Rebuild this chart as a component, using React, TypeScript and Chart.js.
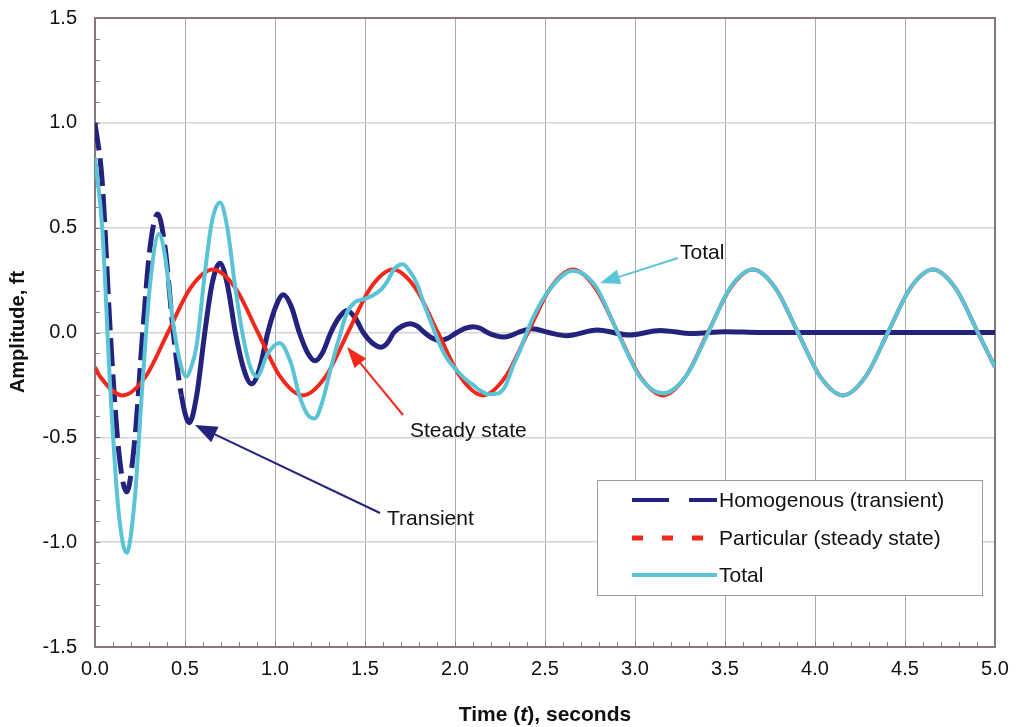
import React, { useEffect, useRef } from "react";
import { Chart, registerables } from "chart.js";

Chart.register(...registerables);

// ---- Data ----
const transientT = [0, 0.04, 0.085, 0.13, 0.176, 0.22, 0.265, 0.305, 0.348, 0.39, 0.435, 0.48, 0.524, 0.565, 0.61, 0.65, 0.694, 0.735, 0.78, 0.825, 0.87, 0.915, 0.96, 1.005, 1.046, 1.09, 1.135, 1.18, 1.222, 1.265, 1.31, 1.355, 1.4, 1.445, 1.49, 1.54, 1.59, 1.625, 1.66, 1.705, 1.75, 1.79, 1.83, 1.875, 1.917, 1.96, 2.01, 2.055, 2.1, 2.14, 2.18, 2.225, 2.27, 2.31, 2.35, 2.43, 2.52, 2.62, 2.79, 2.97, 3.14, 3.32, 3.5, 3.7, 4.0, 4.5, 5.0];
const transientY = [1.0, 0.72, 0.0, -0.55, -0.76, -0.52, 0.0, 0.4, 0.565, 0.4, 0.0, -0.3, -0.43, -0.3, 0.0, 0.23, 0.33, 0.23, 0.0, -0.17, -0.245, -0.17, 0.0, 0.125, 0.18, 0.125, 0.0, -0.095, -0.135, -0.095, 0.0, 0.07, 0.105, 0.07, 0.0, -0.05, -0.07, -0.05, 0.0, 0.03, 0.042, 0.03, 0.0, -0.027, -0.038, -0.027, 0.0, 0.02, 0.028, 0.02, 0.0, -0.015, -0.022, -0.015, 0.0, 0.018, 0.0, -0.015, 0.012, -0.012, 0.01, -0.005, 0.004, 0.0, 0.0, 0.0, 0.0];

const steadyT = [0, 0.03, 0.155, 0.28, 0.405, 0.53, 0.655, 0.78, 0.905, 1.03, 1.155, 1.28, 1.405, 1.53, 1.655, 1.78, 1.905, 2.03, 2.155, 2.28, 2.405, 2.53, 2.655, 2.78, 2.905, 3.03, 3.155, 3.28, 3.405, 3.53, 3.655, 3.78, 3.905, 4.03, 4.155, 4.28, 4.405, 4.53, 4.655, 4.78, 4.905, 5.0];
const steadyY = [-0.165, -0.212, -0.3, -0.212, 0, 0.212, 0.3, 0.212, 0, -0.212, -0.3, -0.212, 0, 0.212, 0.3, 0.212, 0, -0.212, -0.3, -0.212, 0, 0.212, 0.3, 0.212, 0, -0.212, -0.3, -0.212, 0, 0.212, 0.3, 0.212, 0, -0.212, -0.3, -0.212, 0, 0.212, 0.3, 0.212, 0, -0.165];

const totalT = [0, 0.04, 0.085, 0.13, 0.176, 0.22, 0.265, 0.305, 0.355, 0.39, 0.435, 0.475, 0.506, 0.54, 0.565, 0.61, 0.65, 0.694, 0.735, 0.78, 0.825, 0.865, 0.9, 0.96, 1.025, 1.09, 1.135, 1.18, 1.22, 1.265, 1.31, 1.355, 1.4, 1.445, 1.49, 1.54, 1.59, 1.625, 1.66, 1.71, 1.75, 1.79, 1.83, 1.875, 1.917, 1.96, 2.01, 2.055, 2.1, 2.14, 2.19, 2.24, 2.28, 2.32, 2.36, 2.43, 2.53, 2.655, 2.78, 2.905, 3.03, 3.155, 3.28, 3.405, 3.53, 3.655, 3.78, 3.905, 4.03, 4.155, 4.28, 4.405, 4.53, 4.655, 4.78, 4.905, 5.0];
const totalY = [0.835, 0.5, -0.27, -0.845, -1.05, -0.8, -0.23, 0.22, 0.47, 0.36, 0.04, -0.15, -0.21, -0.15, -0.06, 0.28, 0.53, 0.62, 0.5, 0.21, -0.03, -0.17, -0.21, -0.1, -0.05, -0.15, -0.3, -0.39, -0.41, -0.325, -0.17, -0.03, 0.095, 0.145, 0.158, 0.175, 0.205, 0.245, 0.3, 0.325, 0.29, 0.23, 0.13, 0.03, -0.06, -0.13, -0.18, -0.22, -0.25, -0.277, -0.295, -0.29, -0.255, -0.165, -0.087, 0.065, 0.21, 0.295, 0.222, -0.003, -0.215, -0.29, -0.212, -0.004, 0.215, 0.3, 0.212, 0, -0.212, -0.3, -0.212, 0, 0.212, 0.3, 0.212, 0, -0.165];

const xTicks = [0, 0.5, 1, 1.5, 2, 2.5, 3, 3.5, 4, 4.5, 5];
const yTicks = [-1.5, -1, -0.5, 0, 0.5, 1, 1.5];

const seriesNames = ["Homogenous (transient)", "Particular (steady state)", "Total"];
const NAVY = "#23237e";
const RED = "#f2281c";
const CYAN = "#5ac4d6";
const FONT = "'Liberation Sans', Arial, sans-serif";

function toPoints(ts: number[], ys: number[]) {
  return ts.map((t, i) => ({ x: t, y: ys[i] }));
}

function drawArrow(ctx: CanvasRenderingContext2D, x1: number, y1: number, x2: number, y2: number, color: string, headLen: number, headW: number) {
  const ang = Math.atan2(y2 - y1, x2 - x1);
  const bx = x2 - Math.cos(ang) * headLen;
  const by = y2 - Math.sin(ang) * headLen;
  ctx.save();
  ctx.strokeStyle = color;
  ctx.fillStyle = color;
  ctx.lineWidth = 2;
  ctx.beginPath();
  ctx.moveTo(x1, y1);
  ctx.lineTo(bx, by);
  ctx.stroke();
  ctx.beginPath();
  ctx.moveTo(x2, y2);
  ctx.lineTo(bx + Math.sin(ang) * headW / 2, by - Math.cos(ang) * headW / 2);
  ctx.lineTo(bx - Math.sin(ang) * headW / 2, by + Math.cos(ang) * headW / 2);
  ctx.closePath();
  ctx.fill();
  ctx.restore();
}

const decoPlugin = {
  id: "deco",
  beforeDatasetsDraw(chart: any) {
    const { ctx, chartArea: a, scales } = chart;
    ctx.save();
    ctx.strokeStyle = "#8a7f7f";
    ctx.lineWidth = 1;
    for (let i = 0; i <= 30; i++) {
      const v = -1.5 + i * 0.1;
      const py = Math.round(scales.y.getPixelForValue(v)) + 0.5;
      ctx.beginPath();
      ctx.moveTo(a.left, py);
      ctx.lineTo(a.left + 5, py);
      ctx.stroke();
    }
    for (let i = 0; i <= 50; i++) {
      const v = i * 0.1;
      const px = Math.round(scales.x.getPixelForValue(v)) + 0.5;
      ctx.beginPath();
      ctx.moveTo(px, a.bottom);
      ctx.lineTo(px, a.bottom - 5);
      ctx.stroke();
    }
    ctx.strokeStyle = "#857878";
    ctx.lineWidth = 2;
    ctx.strokeRect(a.left, a.top, a.right - a.left, a.bottom - a.top);
    ctx.restore();
  },
  afterDraw(chart: any) {
    const { ctx } = chart;
    ctx.save();
    drawArrow(ctx, 678, 258, 600, 283, CYAN, 20, 15);
    drawArrow(ctx, 403, 415, 347, 347, RED, 21, 15);
    drawArrow(ctx, 380, 513, 195, 425, NAVY, 22, 17);
    ctx.fillStyle = "#111";
    ctx.font = `21px ${FONT}`;
    ctx.textAlign = "left";
    ctx.textBaseline = "middle";
    ctx.fillText("Total", 680, 253);
    ctx.fillText("Steady state", 410, 431);
    ctx.fillText("Transient", 387, 519);

    // legend
    ctx.fillStyle = "#ffffff";
    ctx.fillRect(597, 480, 385, 115);
    ctx.strokeStyle = "#9a9a9a";
    ctx.lineWidth = 1;
    ctx.strokeRect(597.5, 480.5, 385, 115);
    const rows = [500, 538, 575];
    const colors = [NAVY, RED, CYAN];
    const dashes = [[37, 20], [11, 19], []];
    const widths = [4, 5, 4];
    rows.forEach((ry, i) => {
      ctx.save();
      ctx.strokeStyle = colors[i];
      ctx.lineWidth = widths[i];
      ctx.setLineDash(dashes[i]);
      ctx.beginPath();
      ctx.moveTo(632, ry);
      ctx.lineTo(717, ry);
      ctx.stroke();
      ctx.restore();
      ctx.fillStyle = "#111";
      ctx.font = `21px ${FONT}`;
      ctx.textAlign = "left";
      ctx.textBaseline = "middle";
      ctx.fillText(seriesNames[i], 719, ry + 1);
    });

    // axis titles
    ctx.fillStyle = "#111";
    ctx.save();
    ctx.translate(18, 332);
    ctx.rotate(-Math.PI / 2);
    ctx.font = `bold 20px ${FONT}`;
    ctx.textAlign = "center";
    ctx.textBaseline = "middle";
    ctx.fillText("Amplitude, ft", 0, 0);
    ctx.restore();

    const parts = [
      { s: "Time (", f: `bold 21px ${FONT}` },
      { s: "t", f: `italic bold 21px ${FONT}` },
      { s: "), seconds", f: `bold 21px ${FONT}` },
    ];
    let total = 0;
    parts.forEach((p) => {
      ctx.font = p.f;
      total += ctx.measureText(p.s).width;
    });
    let xx = 545 - total / 2;
    ctx.textAlign = "left";
    ctx.textBaseline = "middle";
    parts.forEach((p) => {
      ctx.font = p.f;
      ctx.fillText(p.s, xx, 715);
      xx += ctx.measureText(p.s).width;
    });
    ctx.restore();
  },
};

export default function App() {
  const ref = useRef<HTMLCanvasElement | null>(null);
  useEffect(() => {
    document.body.style.margin = "0";
    if (!ref.current) return;
    const chart = new Chart(ref.current, {
      type: "line",
      data: {
        datasets: [
          {
            label: seriesNames[2],
            data: toPoints(totalT, totalY),
            borderColor: CYAN,
            borderWidth: 4,
            pointRadius: 0,
            cubicInterpolationMode: "monotone",
            order: 0,
          },
          {
            label: seriesNames[1],
            data: toPoints(steadyT, steadyY),
            borderColor: RED,
            borderWidth: 4,
            pointRadius: 0,
            cubicInterpolationMode: "monotone",
            order: 1,
          },
          {
            label: seriesNames[0],
            data: toPoints(transientT, transientY),
            borderColor: NAVY,
            borderWidth: 5,
            pointRadius: 0,
            cubicInterpolationMode: "monotone",
            order: 2,
            segment: {
              borderDash: (c: any) => (c.p0.parsed.x < 0.45 ? [28, 8] : undefined),
            },
          },
        ] as any,
      },
      options: {
        animation: false,
        responsive: true,
        maintainAspectRatio: false,
        layout: { padding: { left: 0, right: 24, top: 18, bottom: 0 } },
        plugins: { legend: { display: false }, tooltip: { enabled: false } },
        scales: {
          x: {
            type: "linear",
            min: 0,
            max: 5,
            afterFit: (s: any) => { s.height = 80; s.paddingLeft = 0; s.paddingRight = 0; },
            afterBuildTicks: (s: any) => { s.ticks = xTicks.map((v) => ({ value: v })); },
            grid: { color: "#a9a9a9", lineWidth: 1, drawTicks: false },
            border: { display: false },
            ticks: {
              padding: 10,
              color: "#111",
              font: { family: FONT, size: 20 },
              callback: (v: any) => Number(v).toFixed(1),
            },
          },
          y: {
            type: "linear",
            min: -1.5,
            max: 1.5,
            afterFit: (s: any) => { s.width = 95; s.paddingTop = 0; s.paddingBottom = 0; },
            afterBuildTicks: (s: any) => { s.ticks = yTicks.map((v) => ({ value: v })); },
            grid: { color: "#d4d4d4", lineWidth: 1.5, drawTicks: false },
            border: { display: false },
            ticks: {
              padding: 18,
              color: "#111",
              font: { family: FONT, size: 20 },
              callback: (v: any) => Number(v).toFixed(1),
            },
          },
        },
      },
      plugins: [decoPlugin],
    });
    return () => chart.destroy();
  }, []);
  return (
    <div style={{ position: "relative", width: 1019, height: 727, background: "#fff" }}>
      <canvas ref={ref} />
    </div>
  );
}
